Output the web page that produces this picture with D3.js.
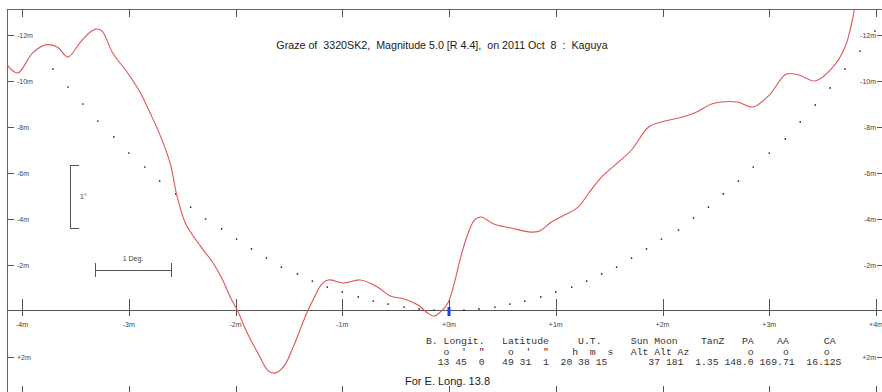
<!DOCTYPE html>
<html>
<head>
<meta charset="utf-8">
<script src="https://cdn.jsdelivr.net/npm/d3@7"></script>
<style>
  body { margin: 0; background: #fff; }
  svg { display: block; }
  text { font-family: Arial, "Liberation Sans", sans-serif; }
  .tbl { font-family: "Liberation Mono", "Courier New", monospace; font-size: 9.75px; fill: #333; white-space: pre; }
</style>
</head>
<body>
<div id="graze"></div>
<script>
// axis ticks
const xTicks = [-4, -3, -2, -1, 0, 1, 2, 3, 4];
const xTickLabels = ["-4m", "-3m", "-2m", "-1m", "+0m", "+1m", "+2m", "+3m", "+4m"];
const yTicks = [-12, -10, -8, -6, -4, -2, 2];
const yTickLabels = ["-12m", "-10m", "-8m", "-6m", "-4m", "-2m", "+2m"];

// limb profile (minutes along track, height)
const profileT = [-4.14, -4.04, -3.90, -3.78, -3.67, -3.57, -3.46, -3.36, -3.30, -3.25, -3.15, -3.01, -2.89, -2.80, -2.70,
  -2.61, -2.55, -2.47, -2.33, -2.21, -2.12, -2.05, -1.98, -1.89, -1.79, -1.70, -1.64, -1.55, -1.46, -1.37, -1.32, -1.25,
  -1.20, -1.13, -0.99, -0.83, -0.67, -0.55, -0.42, -0.29, -0.20, -0.14, -0.08, -0.01, 0.05, 0.11, 0.18, 0.24, 0.30,
  0.42, 0.58, 0.77, 0.85, 0.96, 1.08, 1.21, 1.31, 1.43, 1.59, 1.71, 1.87, 1.99, 2.15, 2.30, 2.46, 2.55, 2.70, 2.85,
  3.00, 3.16, 3.28, 3.43, 3.59, 3.71, 3.80];
const profileH = [-10.70, -10.35, -11.22, -11.57, -11.48, -11.04, -11.65, -12.13, -12.26, -12.17, -11.22, -10.35, -9.48, -8.61, -7.57,
  -6.39, -5.04, -3.83, -2.83, -2.09, -1.35, -0.61, 0.00, 0.96, 1.83, 2.57, 2.70, 2.43, 1.57, 0.52, -0.04, -0.70,
  -1.13, -1.35, -1.22, -1.35, -1.04, -0.65, -0.52, -0.26, 0.09, 0.22, 0.04, -0.35, -1.22, -2.35, -3.39, -3.96, -4.09,
  -3.78, -3.61, -3.43, -3.48, -3.87, -4.17, -4.52, -5.13, -5.83, -6.48, -7.00, -8.00, -8.22, -8.39, -8.61, -9.00, -9.09, -9.09, -8.87,
  -9.39, -10.30, -10.26, -10.00, -10.57, -11.48, -13.17];

// observer path dots
const pathT = [-3.71, -3.57, -3.43, -3.29, -3.14, -3.00, -2.85, -2.71, -2.56, -2.42, -2.28, -2.13, -1.99, -1.85, -1.71,
  -1.57, -1.42, -1.28, -1.14, -1.00, -0.85, -0.71, -0.57, -0.42, -0.28, -0.14, 0.00, 0.14, 0.28, 0.43, 0.57, 0.71,
  0.86, 1.00, 1.15, 1.29, 1.43, 1.57, 1.71, 1.85, 1.99, 2.15, 2.29, 2.43, 2.57, 2.71, 2.85, 3.00, 3.15, 3.29, 3.43,
  3.57, 3.71, 3.85, 3.99];
const pathH = [-10.52, -9.74, -9.00, -8.26, -7.57, -6.87, -6.26, -5.65, -5.09, -4.52, -4.00, -3.57, -3.13, -2.70, -2.30,
  -1.91, -1.61, -1.30, -1.04, -0.83, -0.61, -0.43, -0.30, -0.17, -0.09, -0.04, 0.00, -0.04, -0.09, -0.17, -0.30, -0.43,
  -0.61, -0.83, -1.04, -1.30, -1.61, -1.91, -2.30, -2.70, -3.13, -3.52, -4.04, -4.52, -5.09, -5.65, -6.26, -6.87, -7.48, -8.22, -8.96,
  -9.70, -10.52, -11.30, -12.17];

const title = "Graze of  3320SK2,  Magnitude 5.0 [R 4.4],  on 2011 Oct  8  :  Kaguya";
const tableRows = [
  "B. Longit.   Latitude     U.T.     Sun Moon    TanZ   PA    AA      CA",
  "   o  '  \"    o  '  \"    h  m  s   Alt Alt Az          o     o      o",
  "  13 45  0   49 31  1  20 38 15       37 181  1.35 148.0 169.71  16.12S"
];
const footer = "For E. Long. 13.8";

const W = 882, H = 392;
const padL = 7, padT = 9;
const axisY = 310;

const svg = d3.select("#graze").append("svg")
  .attr("width", W).attr("height", H);

const x = d3.scaleLinear().domain([-4, 4]).range([22, 876]);
const y = d3.scaleLinear().domain([-12, 2]).range([35, 357]);

svg.append("defs").append("clipPath").attr("id", "plot")
  .append("rect").attr("x", padL).attr("y", padT).attr("width", W - padL).attr("height", H - padT);

// frame + mid axis
const frame = svg.append("g").attr("stroke", "#666").attr("stroke-width", 1).attr("shape-rendering", "crispEdges");
frame.append("line").attr("x1", padL + 0.5).attr("x2", padL + 0.5).attr("y1", padT).attr("y2", H);
frame.append("line").attr("x1", padL).attr("x2", W).attr("y1", padT + 0.5).attr("y2", padT + 0.5);
frame.append("line").attr("x1", padL).attr("x2", W).attr("y1", axisY + 0.5).attr("y2", axisY + 0.5).attr("stroke", "#555");

// x ticks: top, middle, bottom
const xt = svg.append("g").attr("stroke", "#555").attr("shape-rendering", "crispEdges");
xTicks.forEach(t => {
  const px = Math.round(x(t)) + 0.5;
  xt.append("line").attr("x1", px).attr("x2", px).attr("y1", padT).attr("y2", padT + 8);
  xt.append("line").attr("x1", px).attr("x2", px).attr("y1", axisY - 11).attr("y2", axisY + 6);
  xt.append("line").attr("x1", px).attr("x2", px).attr("y1", H - 6).attr("y2", H);
});
svg.append("g").selectAll("text").data(xTicks).join("text")
  .attr("x", d => x(d)).attr("y", axisY + 17)
  .attr("text-anchor", "middle").attr("font-size", 7).attr("fill", "#444")
  .text((d, i) => xTickLabels[i]);

// y ticks left and right
const yt = svg.append("g").attr("stroke", "#555").attr("shape-rendering", "crispEdges");
yTicks.forEach(t => {
  const py = Math.round(y(t)) + 0.5;
  yt.append("line").attr("x1", padL).attr("x2", padL + 7).attr("y1", py).attr("y2", py);
  yt.append("line").attr("x1", W - 5).attr("x2", W).attr("y1", py).attr("y2", py);
});
svg.append("g").selectAll("text").data(yTicks).join("text")
  .attr("x", 17).attr("y", d => y(d) + 2.5)
  .attr("font-size", 7).attr("fill", "#444")
  .text((d, i) => yTickLabels[i]);
svg.append("g").selectAll("text").data(yTicks).join("text")
  .attr("x", W - 6).attr("y", d => y(d) + 2.5)
  .attr("text-anchor", "end").attr("font-size", 7).attr("fill", "#444")
  .text((d, i) => yTickLabels[i]);

// scale bars
const bars = svg.append("g").attr("stroke", "#555").attr("fill", "none").attr("shape-rendering", "crispEdges");
bars.append("path").attr("d", "M78.5,165.5H70.5V228.5H78.5");
bars.append("path").attr("d", "M95.5,263V277M95.5,270.5H171.5M171.5,263V277");
svg.append("text").attr("x", 80).attr("y", 199).attr("font-size", 7).attr("fill", "#444").text("1°");
svg.append("text").attr("x", 133).attr("y", 261).attr("text-anchor", "middle").attr("font-size", 7).attr("fill", "#444").text("1 Deg.");

// observer path dots
svg.append("g").selectAll("circle").data(pathT).join("circle")
  .attr("cx", d => x(d)).attr("cy", (d, i) => y(pathH[i]))
  .attr("r", 0.85).attr("fill", "#222");

// limb profile
const profile = profileT.map((t, i) => [t, profileH[i]]);
svg.append("path").datum(profile)
  .attr("clip-path", "url(#plot)")
  .attr("fill", "none").attr("stroke", "#e05555").attr("stroke-width", 1.1)
  .attr("d", d3.line().x(d => x(d[0])).y(d => y(d[1])).curve(d3.curveCatmullRom.alpha(0.5)));

// central marker
svg.append("rect").attr("x", x(0) - 1.5).attr("y", axisY - 3).attr("width", 3).attr("height", 9).attr("fill", "#1a3cff");

// title and footer
svg.append("text").attr("x", 442).attr("y", 49).attr("text-anchor", "middle")
  .attr("font-size", 10.7).attr("fill", "#1a1a1a").style("white-space", "pre").text(title);
svg.append("text").attr("x", 405).attr("y", 385).attr("font-size", 11).attr("fill", "#1a1a1a").text(footer);

// data table
svg.append("g").selectAll("text").data(tableRows).join("text")
  .attr("class", "tbl").attr("x", 426).attr("y", (d, i) => 344 + i * 10.5)
  .text(d => d);
</script>
</body>
</html>
